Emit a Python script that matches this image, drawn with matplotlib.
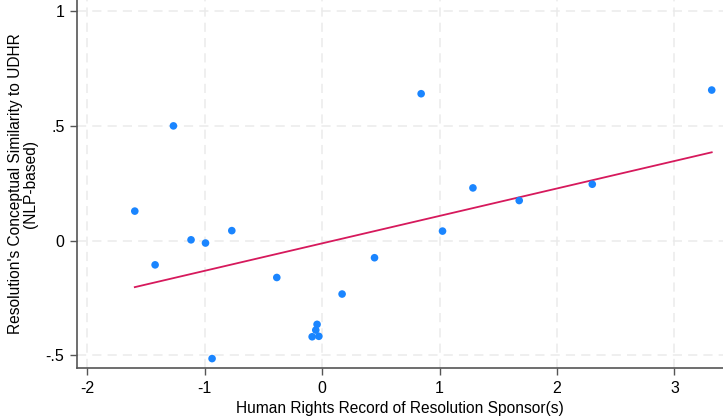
import numpy as np
import matplotlib.pyplot as plt
from matplotlib.ticker import FixedLocator, FixedFormatter

plt.rcParams['font.family'] = ['Liberation Sans', 'DejaVu Sans']
plt.rcParams['axes.unicode_minus'] = False

# sponsor human-rights score vs. NLP similarity to the UDHR
hr_record = [-1.595, -1.422, -1.266, -1.116, -0.993, -0.937, -0.769, -0.386,
             -0.085, -0.054, -0.043, -0.028, 0.170, 0.446, 0.843, 1.025,
             1.284, 1.678, 2.300, 3.317]
similarity = [0.128, -0.106, 0.499, 0.003, -0.011, -0.514, 0.043, -0.161,
              -0.419, -0.390, -0.365, -0.417, -0.233, -0.075, 0.639, 0.041,
              0.229, 0.174, 0.245, 0.655]

# linear fit reported with the scatter
fit_slope = 0.1195
fit_intercept = -0.0124

x_ticks = [-2, -1, 0, 1, 2, 3]
y_ticks = [-0.5, 0, 0.5, 1]
y_ticklabels = ['-.5', '0', '.5', '1']

x = np.array(hr_record)
y = np.array(similarity)

fig = plt.figure(figsize=(7.23, 4.19), dpi=100)
ax = fig.add_axes([77 / 723, 51 / 419, 1 - 77 / 723, 1 - 51 / 419])

ax.set_xlim(-2.087, 3.413)
ax.set_ylim(-0.555, 1.047)

ax.xaxis.set_major_locator(FixedLocator(x_ticks))
ax.yaxis.set_major_locator(FixedLocator(y_ticks))
ax.yaxis.set_major_formatter(FixedFormatter(y_ticklabels))
ax.grid(True, color='#ebebeb', linestyle=(0, (6, 4)), linewidth=1.1, zorder=0)

xs = np.array([x.min(), x.max()])
ax.plot(xs, fit_intercept + fit_slope * xs, color='#d6195c', linewidth=1.3, zorder=2)
ax.scatter(x, y, s=30, color='#1a85ff', edgecolors='none', zorder=3)

for side in ['top', 'right']:
    ax.spines[side].set_visible(False)
for side in ['left', 'bottom']:
    ax.spines[side].set_color('#555555')
    ax.spines[side].set_linewidth(1.2)
ax.tick_params(direction='out', length=5, width=1, color='#555555',
               labelsize=11.5, labelcolor='black', pad=4)

ax.set_xlabel('Human Rights Record of Resolution Sponsor(s)', fontsize=11.2,
              va='center')
ax.xaxis.set_label_coords(0.5, -0.109)
ax.set_ylabel("Resolution's Conceptual Similarity to UDHR\n(NLP-based)",
              fontsize=11.2, linespacing=1.05, va='center')
ax.yaxis.set_label_coords(-0.0836, 0.5)

fig.savefig('out.png', dpi=100)
